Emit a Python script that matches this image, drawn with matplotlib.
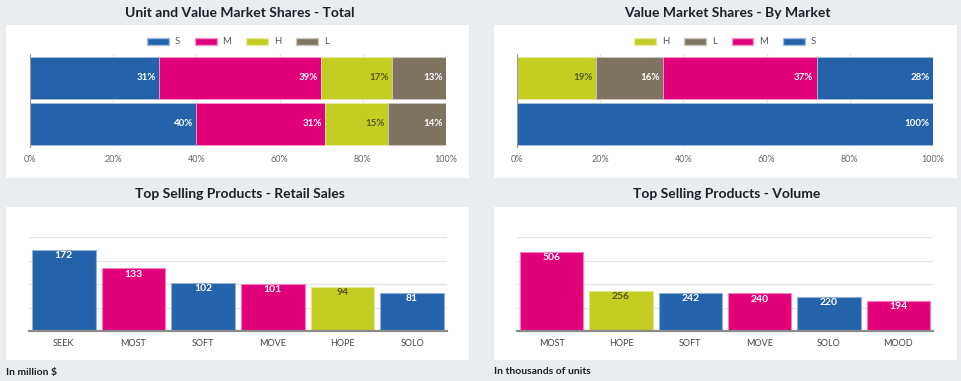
import matplotlib
matplotlib.use("Agg")
import matplotlib.pyplot as plt
from matplotlib.patches import Rectangle, Patch
from matplotlib.colors import to_rgb
import numpy as np

W, H = 962, 381
plt.rcParams['font.family'] = ['Lato', 'DejaVu Sans']

BLUE = "#2462a9"
MAG = "#e2007a"
YEL = "#c4cd22"
BRN = "#7e7461"
BG = "#e9edf0"
COLORS = {"S": BLUE, "M": MAG, "H": YEL, "L": BRN}

# Data
total_rows = ["Units", "Value"]
total_series = ["S", "M", "H", "L"]
total_S = [31, 40]
total_M = [39, 31]
total_H = [17, 15]
total_L = [13, 14]

market_rows = ["Market 1", "Market 2"]
market_series = ["H", "L", "M", "S"]
market_H = [19, 0]
market_L = [16, 0]
market_M = [37, 0]
market_S = [28, 100]

pct_ticks = [0, 20, 40, 60, 80, 100]

retail_products = ["SEEK", "MOST", "SOFT", "MOVE", "HOPE", "SOLO"]
retail_values = [172, 133, 102, 101, 94, 81]
retail_groups = ["S", "M", "S", "M", "H", "S"]

volume_products = ["MOST", "HOPE", "SOFT", "MOVE", "SOLO", "MOOD"]
volume_values = [506, 256, 242, 240, 220, 194]
volume_groups = ["M", "H", "S", "M", "S", "M"]

fig = plt.figure(figsize=(W / 100, H / 100), dpi=100, facecolor=BG)


def fx(x):
    return x / W


def fy(y):
    return 1 - y / H


def card(x0, y0, x1, y1):
    fig.patches.append(Rectangle((fx(x0), fy(y1)), fx(x1) - fx(x0), fy(y0) - fy(y1),
                                 transform=fig.transFigure, facecolor="white",
                                 edgecolor="none", zorder=-10))


def axes_px(x0, y0, x1, y1):
    ax = fig.add_axes([fx(x0), fy(y1), fx(x1) - fx(x0), fy(y0) - fy(y1)])
    ax.set_facecolor("none")
    ax.set_zorder(2)
    return ax


def lighten(c, f=0.45):
    r, g, b = to_rgb(c)
    return (r + (1 - r) * f, g + (1 - g) * f, b + (1 - b) * f)


def label_color(key):
    return "#55581e" if key == "H" else "white"


card(6, 25, 469, 178)
card(494, 25, 957, 178)
card(6, 207, 469, 360)
card(494, 207, 957, 360)

title_kw = dict(fontsize=10, fontweight="bold", color="#1e1e28", ha="center", va="center")
fig.text(fx(240), fy(13), "Unit and Value Market Shares - Total", **title_kw)
fig.text(fx(727), fy(13), "Value Market Shares - By Market", **title_kw)
fig.text(fx(240), fy(194), "Top Selling Products - Retail Sales", **title_kw)
fig.text(fx(727), fy(194), "Top Selling Products - Volume", **title_kw)
fig.text(fx(6), fy(372), "In million $", fontsize=7.5, fontweight="bold", color="#1e1e28",
         ha="left", va="center")
fig.text(fx(494), fy(372), "In thousands of units", fontsize=7.5, fontweight="bold",
         color="#1e1e28", ha="left", va="center")


def stacked(ax, series, values, legend_cx):
    ypos = np.array([1, 0])
    left = np.zeros(2)
    handles = []
    for key, vals in zip(series, values):
        vals = np.array(vals, dtype=float)
        ax.barh(ypos, vals, left=left, height=0.92, color=COLORS[key],
                edgecolor=lighten(COLORS[key], 0.6), linewidth=0.6, zorder=2)
        for yp, l, v in zip(ypos, left, vals):
            if v > 0:
                ax.text(l + v - 0.8, yp, f"{int(v)}%", ha="right", va="center",
                        fontsize=7, fontweight="bold", color=label_color(key), zorder=3)
        left += vals
        handles.append(Patch(facecolor=COLORS[key], edgecolor=lighten(COLORS[key], 0.6),
                             label=key))
    ax.set_xlim(0, 100)
    ax.set_ylim(-0.5, 1.52)
    ax.set_xticks(pct_ticks)
    ax.set_xticklabels([f"{t}%" for t in pct_ticks])
    ax.set_yticks([])
    ax.tick_params(axis="x", length=0, labelsize=6.5, labelcolor="#666666", pad=6)
    ax.grid(axis="x", color="#e4e4e4", linewidth=0.8, zorder=0)
    for s in ["top", "right", "bottom"]:
        ax.spines[s].set_visible(False)
    ax.spines["left"].set_color("#999999")
    ax.spines["left"].set_linewidth(0.8)
    leg = fig.legend(handles=handles, loc="center", bbox_to_anchor=(fx(legend_cx), fy(42)),
                     ncol=len(series), frameon=False, fontsize=6.8, handlelength=2.3,
                     handleheight=0.8, columnspacing=1.6, handletextpad=0.6)
    for t in leg.get_texts():
        t.set_color("#555555")


ax1 = axes_px(30, 54, 446, 147)
stacked(ax1, total_series, [total_S, total_M, total_H, total_L], 238)

ax2 = axes_px(517, 54, 933, 147)
stacked(ax2, market_series, [market_H, market_L, market_M, market_S], 725)


def columns(ax, cats, vals, groups, ymax):
    x = np.arange(len(cats))
    cols = [COLORS[g] for g in groups]
    ax.bar(x, vals, width=0.91, color=cols, edgecolor=[lighten(c, 0.5) for c in cols],
           linewidth=0.8, zorder=2)
    for xi, v, g in zip(x, vals, groups):
        ax.text(xi, v - ymax * 0.012, str(v), ha="center", va="top", fontsize=7.5,
                fontweight="bold", color=label_color(g), zorder=3)
    ax.set_xlim(-0.5, len(cats) - 0.5)
    ax.set_ylim(0, ymax)
    ax.set_yticks(np.linspace(0, ymax, 5))
    ax.set_yticklabels([])
    ax.tick_params(axis="y", length=0)
    ax.set_xticks(x)
    ax.set_xticklabels(cats)
    ax.tick_params(axis="x", length=0, labelsize=6.5, labelcolor="#444444", pad=6)
    ax.grid(axis="y", color="#e2e2e2", linewidth=0.9, zorder=0)
    for s in ["top", "right", "left"]:
        ax.spines[s].set_visible(False)
    ax.spines["bottom"].set_color("#8a8a8a")
    ax.spines["bottom"].set_linewidth(1.6)
    ax.spines["bottom"].set_zorder(4)


ax3 = axes_px(29, 237, 447, 331)
columns(ax3, retail_products, retail_values, retail_groups, 200)

ax4 = axes_px(517, 237, 933, 331)
columns(ax4, volume_products, volume_values, volume_groups, 600)

fig.savefig("out.png", dpi=100, facecolor=BG)
